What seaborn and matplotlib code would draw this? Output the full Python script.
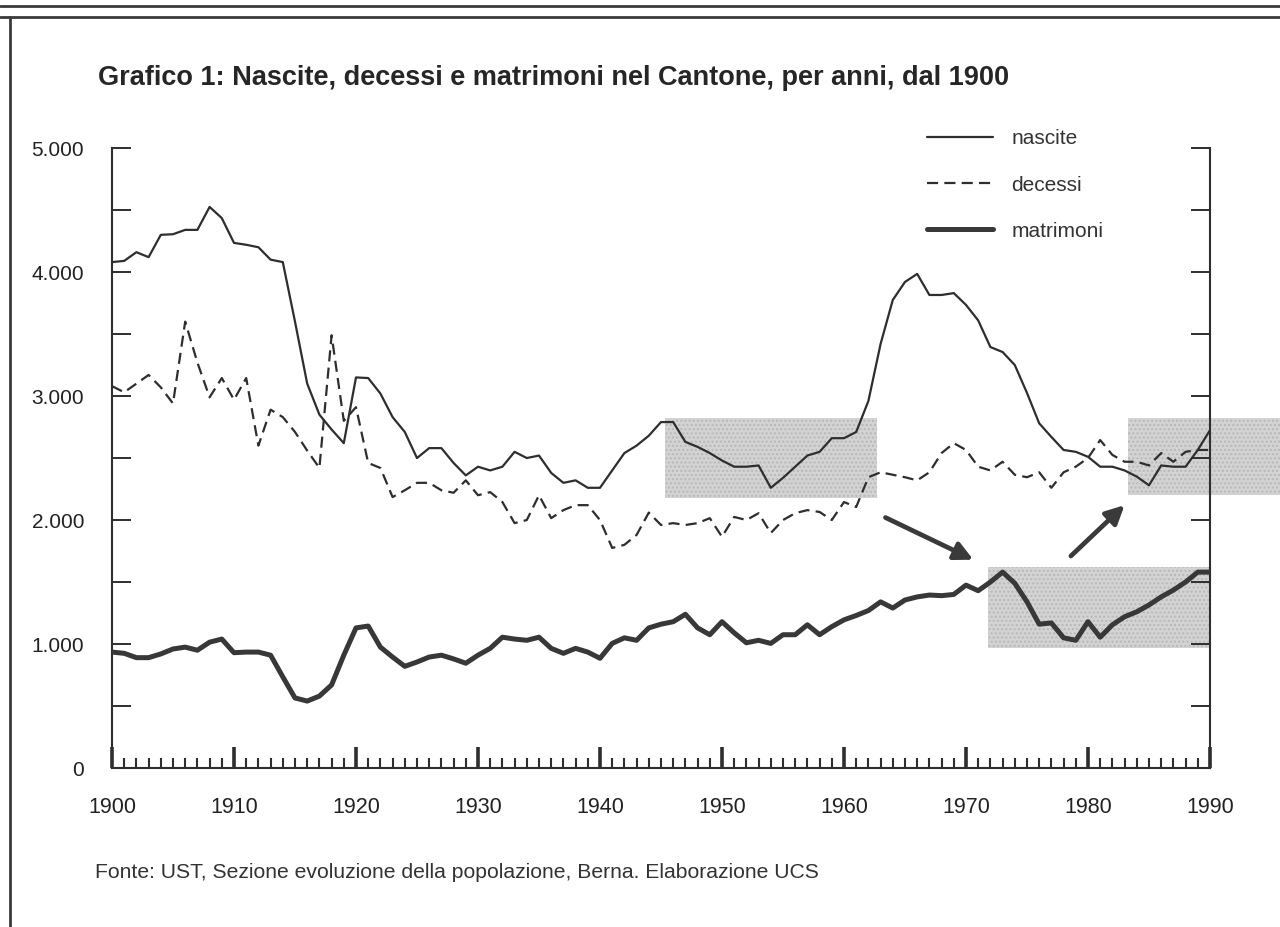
import numpy as np
import pandas as pd
import matplotlib.pyplot as plt
import seaborn as sns
from matplotlib.lines import Line2D
from matplotlib.patches import Rectangle
from matplotlib.ticker import FixedLocator, FuncFormatter

# Data, one value per year 1900-1990
years = list(range(1900, 1991))

nascite = [4080, 4090, 4160, 4120, 4300, 4305, 4340, 4340, 4525, 4435,
           4235, 4220, 4200, 4100, 4080, 3600, 3100, 2850, 2730, 2620,
           3150, 3145, 3020, 2830, 2710, 2500, 2580, 2580, 2460, 2360,
           2430, 2400, 2430, 2550, 2500, 2520, 2380, 2300, 2320, 2260,
           2260, 2400, 2540, 2600, 2680, 2790, 2790, 2630, 2590, 2540,
           2480, 2430, 2430, 2440, 2260, 2340, 2430, 2520, 2550, 2660,
           2660, 2710, 2960, 3420, 3775, 3920, 3985, 3815, 3815, 3830,
           3735, 3610, 3395, 3355, 3250, 3025, 2780, 2670, 2565, 2550,
           2510, 2430, 2430, 2400, 2350, 2280, 2440, 2430, 2430, 2565,
           2725]

decessi = [3080, 3030, 3100, 3170, 3070, 2940, 3600, 3270, 2990, 3145,
           2970, 3145, 2600, 2890, 2830, 2710, 2560, 2420, 3490, 2800,
           2910, 2460, 2420, 2185, 2240, 2300, 2300, 2240, 2220, 2320,
           2200, 2225, 2145, 1975, 2000, 2200, 2015, 2080, 2120, 2120,
           2000, 1775, 1800, 1880, 2060, 1960, 1975, 1960, 1975, 2015,
           1865, 2025, 2000, 2055, 1895, 2000, 2055, 2080, 2065, 2000,
           2145, 2105, 2345, 2385, 2365, 2345, 2320, 2385, 2540, 2620,
           2565, 2430, 2400, 2470, 2365, 2345, 2385, 2260, 2385, 2430,
           2500, 2645, 2525, 2470, 2470, 2440, 2540, 2470, 2550, 2565,
           2565]

matrimoni = [935, 925, 890, 890, 920, 960, 975, 950, 1015, 1040,
             930, 935, 935, 910, 735, 565, 540, 580, 670, 910,
             1130, 1145, 975, 895, 820, 855, 895, 910, 880, 845,
             910, 965, 1055, 1040, 1030, 1055, 965, 925, 965, 935,
             885, 1005, 1050, 1030, 1130, 1160, 1180, 1240, 1130, 1075,
             1180, 1090, 1010, 1030, 1005, 1075, 1075, 1155, 1075, 1140,
             1195, 1230, 1270, 1340, 1290, 1355, 1380, 1395, 1390, 1400,
             1475, 1430, 1500, 1580, 1490, 1340, 1160, 1170, 1050, 1030,
             1180, 1055, 1155, 1220, 1260, 1315, 1380, 1435, 1500, 1580,
             1580]

# shaded boxes (x0, x1, y0, y1) and arrows (x_from, y_from, x_to, y_to)
box_x0 = [1945.3, 1971.8, 1983.3]
box_x1 = [1962.7, 1990.0, 1995.7]
box_y0 = [2180, 970, 2200]
box_y1 = [2820, 1620, 2820]
arrows = [(1963.4, 2020, 1970.6, 1680), (1978.6, 1710, 1983.0, 2120)]

df = pd.DataFrame({"anno": years, "nascite": nascite,
                   "decessi": decessi, "matrimoni": matrimoni})

sns.set_style("ticks")
plt.rcParams['font.family'] = ['Liberation Sans', 'DejaVu Sans']

ink = "#2e2e2e"
fig = plt.figure(figsize=(12.8, 9.27), dpi=100)
ax = fig.add_axes([0.0875, 0.1715, 0.8578, 0.6688])

# gray boxes behind the lines
for x0, x1, y0, y1 in zip(box_x0, box_x1, box_y0, box_y1):
    ax.add_patch(Rectangle((x0, y0), x1 - x0, y1 - y0, facecolor="#d3d3d3",
                           edgecolor="#b8b8b8", hatch="....", lw=0,
                           clip_on=False, zorder=0))

sns.lineplot(data=df, x="anno", y="nascite", ax=ax, color=ink, lw=1.6,
             label="nascite", zorder=3)
sns.lineplot(data=df, x="anno", y="decessi", ax=ax, color=ink, lw=1.6,
             dashes=False, label="decessi", zorder=3)
ax.lines[-1].set_dashes((5, 2.8))
sns.lineplot(data=df, x="anno", y="matrimoni", ax=ax, color="#383838", lw=3.6,
             label="matrimoni", zorder=3)

for x0, y0, x1, y1 in arrows:
    ax.annotate("", xy=(x1, y1), xytext=(x0, y0),
                arrowprops=dict(arrowstyle="-|>,head_length=1.1,head_width=0.55",
                                color="#3a3a3a", lw=3.4, shrinkA=0, shrinkB=0))

ax.set_xlim(1900, 1990)
ax.set_ylim(0, 5000)
ax.set_xlabel("")
ax.set_ylabel("")

for side in ["left", "right", "bottom"]:
    ax.spines[side].set_visible(True)
    ax.spines[side].set_linewidth(1.5)
    ax.spines[side].set_color(ink)
ax.spines["top"].set_visible(False)

# y ticks every 500, labels only on thousands
ax.yaxis.set_major_locator(FixedLocator(range(0, 5001, 1000)))
ax.yaxis.set_minor_locator(FixedLocator(range(500, 5000, 1000)))
ax.yaxis.set_major_formatter(FuncFormatter(lambda v, p: f"{int(v):,}".replace(",", ".")))
ax.tick_params(axis="y", which="both", direction="in", length=14, width=1.4,
               color=ink, left=True, right=True, labelright=False,
               labelsize=15, pad=20, labelcolor="#222222")

# x ticks: each year small, decades tall
ax.xaxis.set_major_locator(FixedLocator(range(1900, 1991, 10)))
ax.xaxis.set_minor_locator(FixedLocator([y for y in years if y % 10]))
ax.tick_params(axis="x", which="major", direction="in", length=15, width=2.6,
               color=ink, labelsize=15.5, pad=21, labelcolor="#222222")
ax.tick_params(axis="x", which="minor", direction="in", length=7, width=1.5,
               color=ink)

leg = ax.legend(loc="upper left", bbox_to_anchor=(0.742, 1.03), frameon=False,
                fontsize=15, handlelength=3.2, handletextpad=0.85,
                labelspacing=1.3, borderpad=0, borderaxespad=0)
for t in leg.get_texts():
    t.set_color("#333333")

fig.text(0.0766, 0.916,
         "Grafico 1: Nascite, decessi e matrimoni nel Cantone, per anni, dal 1900",
         fontsize=19.5, fontweight="bold", color="#262626", ha="left", va="center")
fig.text(0.0742, 0.0593,
         "Fonte: UST, Sezione evoluzione della popolazione, Berna. Elaborazione UCS",
         fontsize=15.2, color="#333333", ha="left", va="center")

# page frame: double rule on top, rule on the left
for yy in [0.9935, 0.9817]:
    fig.add_artist(Line2D([0.0, 1.0], [yy, yy], transform=fig.transFigure,
                          color="#3a3a3a", lw=2.0))
fig.add_artist(Line2D([0.0082, 0.0082], [0.0, 0.9817], transform=fig.transFigure,
                      color="#3a3a3a", lw=2.0))

fig.savefig("out.png", dpi=100)
